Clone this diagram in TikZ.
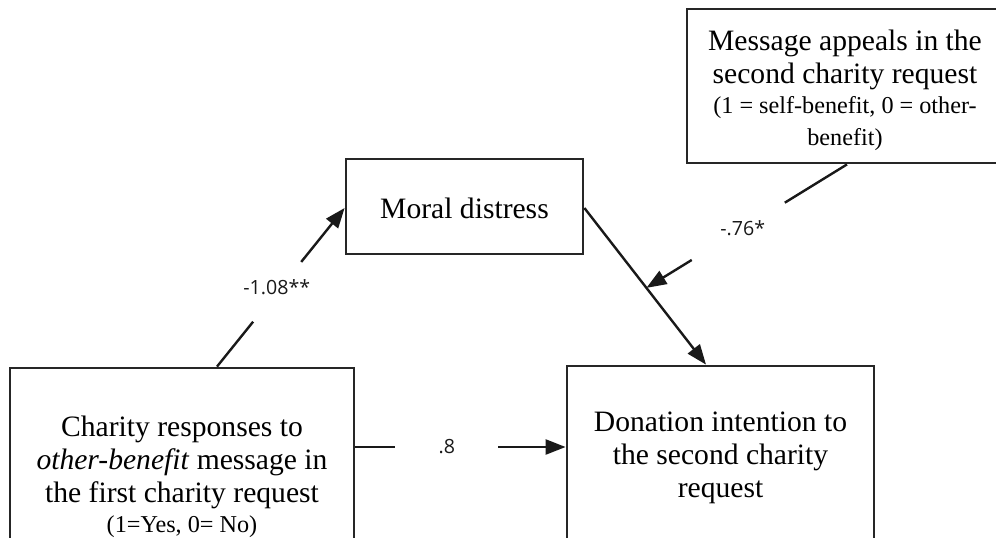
\documentclass[tikz,border=0pt]{standalone}
\usepackage{fontspec}
\setmainfont{Liberation Serif}
\newfontfamily\labelfont{Open Sans}
\usetikzlibrary{arrows.meta,calc}
\begin{document}
\begin{tikzpicture}[x=0.5pt,y=-0.5pt,
  box/.style={draw=black!85, line width=1.4pt, inner sep=0pt},
  txt/.style={align=center, inner sep=0pt, font=\fontsize{14.8}{16.5}\selectfont},
  link/.style={line width=1.2pt, draw=black!90},
  arr/.style={link, -{Triangle[length=10pt,width=7.5pt]}},
  coef/.style={font=\labelfont\fontsize{9.8}{12}\selectfont, text=black!90}]
\useasboundingbox (0,0) rectangle (996,537);
\clip (0,0) rectangle (996,537);

% variable boxes (the lower two and the moderator run past the frame)
\node[box, minimum width=158pt, minimum height=77pt] (msg) at (845,86) {};
\node[box, minimum width=118.5pt, minimum height=47.5pt] (moral) at (464.5,206.5) {};
\node[box, minimum width=172pt, minimum height=110pt] (charity) at (182,478) {};
\node[box, minimum width=153.5pt, minimum height=88pt] (donation) at (720.5,454) {};

% box texts
\node[txt] (msgtext) at ($(msg.center)+(0,4)$)
  {Message appeals in the\\ second charity request\\[-1.5pt]
   {\fontsize{12.1}{14}\selectfont (1 = self-benefit, 0 = other-}\\[-0.5pt]
   {\fontsize{12.1}{14}\selectfont benefit)}};
\node[txt] (moraltext) at ($(moral.center)+(0,1.5)$) {Moral distress};
\node[txt] (charitytext) at ($(charity.center)+(0,-1)$)
  {Charity responses to\\ \textit{other-benefit} message in\\ the first charity request\\[-1.5pt]
   {\fontsize{12.1}{14}\selectfont (1=Yes, 0= No)}};
\node[txt] (donationtext) at ($(donation.center)+(0,4)$)
  {Donation intention to\\ the second charity\\ request};

% path a: predictor to mediator
\coordinate (a1) at ($(charity.north)+(35,0)$);
\coordinate (a2) at ($(moral.west)+(0,1.5)$);
\draw[link] (a1) -- ($(a1)!0.283!(a2)$);
\draw[arr] ($(a1)!0.66!(a2)$) -- (a2);
\node[coef] (la) at ($(a1)!0.5!(a2)+(-4,0)$) {-1.08**};

% direct effect
\coordinate (c1) at ($(charity.east)+(0,-31)$);
\coordinate (c2) at (donation.west |- c1);
\draw[link] (c1) -- ($(c1)!0.19!(c2)$);
\draw[arr] ($(c1)!0.68!(c2)$) -- (c2);
\node[coef] (lc) at ($(c1)!0.435!(c2)$) {.8};

% path b: mediator to outcome
\coordinate (b1) at ($(moral.east)+(0,1.5)$);
\coordinate (b2) at ($(donation.north)+(-14.5,0)$);
\draw[arr] (b1) -- (b2);

% moderator on path b
\coordinate (m1) at ($(msg.south)+(2,0)$);
\coordinate (m2) at ($(b1)!0.51!(b2)$);
\draw[link] (m1) -- ($(m1)!0.31!(m2)$);
\draw[arr] ($(m1)!0.774!(m2)$) -- (m2);
\node[coef] (lm) at ($(m1)!0.52!(m2)$) {-.76*};
\end{tikzpicture}
\end{document}
